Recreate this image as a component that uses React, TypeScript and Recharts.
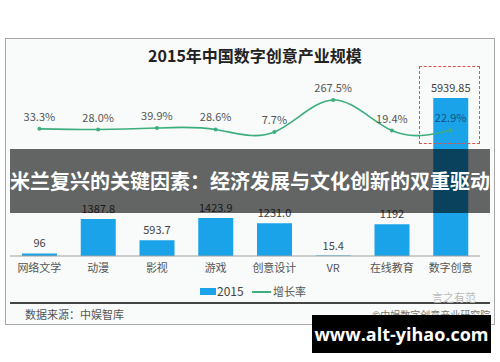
import { ComposedChart, Bar, Line, XAxis, YAxis, LabelList } from "recharts";

const categories = ["网络文学", "动漫", "影视", "游戏", "创意设计", "VR", "在线教育", "数字创意"];
const scale2015 = [96, 1387.8, 593.7, 1423.9, 1231.0, 15.4, 1192, 5939.85];
const scaleLabels = ["96", "1387.8", "593.7", "1423.9", "1231.0", "15.4", "1192", "5939.85"];
const growthRate = [33.3, 28.0, 39.9, 28.6, 7.7, 267.5, 19.4, 22.9];

const data = categories.map((name, i) => ({
  name,
  value: scale2015[i],
  valueLabel: scaleLabels[i],
  rate: growthRate[i],
}));

const FONT = '"Noto Sans CJK SC", "Noto Sans", sans-serif';
const BLUE = "#1aa3e8";
const GREEN = "#3dae7e";

function RateLabel(props: any) {
  const { x, y, index } = props;
  const last = index === growthRate.length - 1;
  return (
    <text
      x={x}
      y={y - 8}
      textAnchor="middle"
      fontSize={11}
      fontFamily={FONT}
      fill={last ? "#1d4f86" : "#555"}
    >
      {growthRate[index].toFixed(1)}%
    </text>
  );
}

export default function App() {
  return (
    <div
      style={{
        position: "absolute",
        left: 0,
        top: 0,
        width: 500,
        height: 362,
        background: "#fff",
        fontFamily: FONT,
        overflow: "hidden",
      }}
    >
      {/* frame */}
      <div
        style={{
          position: "absolute",
          left: 5,
          top: 38,
          width: 488,
          height: 285,
          border: "1px solid #a8a8a8",
          background: "#f8fbf9",
        }}
      />
      <div
        style={{
          position: "absolute",
          left: 0,
          width: 510,
          top: 44,
          textAlign: "center",
          fontSize: 16,
          fontWeight: 700,
          color: "#222",
          lineHeight: "22px",
        }}
      >
        2015年中国数字创意产业规模
      </div>

      <div style={{ position: "absolute", left: 0, top: 0 }}>
        <ComposedChart
          width={500}
          height={362}
          data={data}
          margin={{ top: 90, right: 20, bottom: 86, left: 10 }}
        >
          <XAxis
            dataKey="name"
            height={20}
            interval={0}
            tickLine={false}
            axisLine={{ stroke: "#a0a0a0" }}
            tick={{ fontSize: 11, fill: "#555", fontFamily: FONT }}
          />
          <YAxis yAxisId="bar" hide domain={[0, 6240]} />
          <YAxis yAxisId="rate" hide domain={[-996, 348]} />
          <Bar yAxisId="bar" dataKey="value" fill={BLUE} barSize={35} isAnimationActive={false}>
            <LabelList
              dataKey="valueLabel"
              position="top"
              offset={6}
              fontSize={11}
              fill="#444"
              fontFamily={FONT}
            />
          </Bar>
          <Line
            yAxisId="rate"
            type="natural"
            dataKey="rate"
            stroke={GREEN}
            strokeWidth={1.6}
            dot={{ r: 1.2, fill: GREEN, stroke: GREEN }}
            label={<RateLabel />}
            isAnimationActive={false}
          />
        </ComposedChart>
      </div>

      {/* legend */}
      <div style={{ position: "absolute", left: 200, top: 288, width: 16, height: 7, background: BLUE }} />
      <div style={{ position: "absolute", left: 217, top: 283, fontSize: 12, color: "#444", lineHeight: "16px" }}>2015</div>
      <div style={{ position: "absolute", left: 252, top: 291, width: 19, height: 2, background: GREEN }} />
      <div style={{ position: "absolute", left: 273, top: 284, fontSize: 11, color: "#555", lineHeight: "15px" }}>增长率</div>

      {/* footer */}
      <div style={{ position: "absolute", left: 10, top: 302, width: 480, height: 2, background: "#444" }} />
      <div style={{ position: "absolute", left: 25, top: 307, fontSize: 11, color: "#555", lineHeight: "15px" }}>
        数据来源：中娱智库
      </div>
      <div style={{ position: "absolute", left: 432, top: 291, fontSize: 11, color: "#bbb", lineHeight: "12px" }}>
        言之有范
      </div>
      <div style={{ position: "absolute", left: 372, top: 309, fontSize: 10, color: "#777", lineHeight: "11px" }}>
        ©中娱数字创意产业研究院
      </div>

      {/* highlight box */}
      <div
        style={{
          position: "absolute",
          left: 419,
          top: 66,
          width: 59,
          height: 76,
          border: "1.5px dashed #d9534f",
        }}
      />

      {/* banner */}
      <div
        style={{
          position: "absolute",
          left: 10,
          top: 149,
          width: 480,
          height: 64,
          background: "rgba(0,0,0,0.6)",
          color: "#fff",
          fontSize: 20,
          fontWeight: 700,
          lineHeight: "64px",
          textAlign: "center",
          whiteSpace: "nowrap",
        }}
      >
        米兰复兴的关键因素：经济发展与文化创新的双重驱动
      </div>

      {/* site mark */}
      <div
        style={{
          position: "absolute",
          left: 312,
          top: 315,
          width: 179,
          height: 38,
          background: "#000",
          color: "#fff",
          fontSize: 18,
          fontWeight: 700,
          lineHeight: "38px",
          textAlign: "center",
          fontFamily: '"Open Sans", sans-serif',
        }}
      >
        www.alt-yihao.com
      </div>
    </div>
  );
}
